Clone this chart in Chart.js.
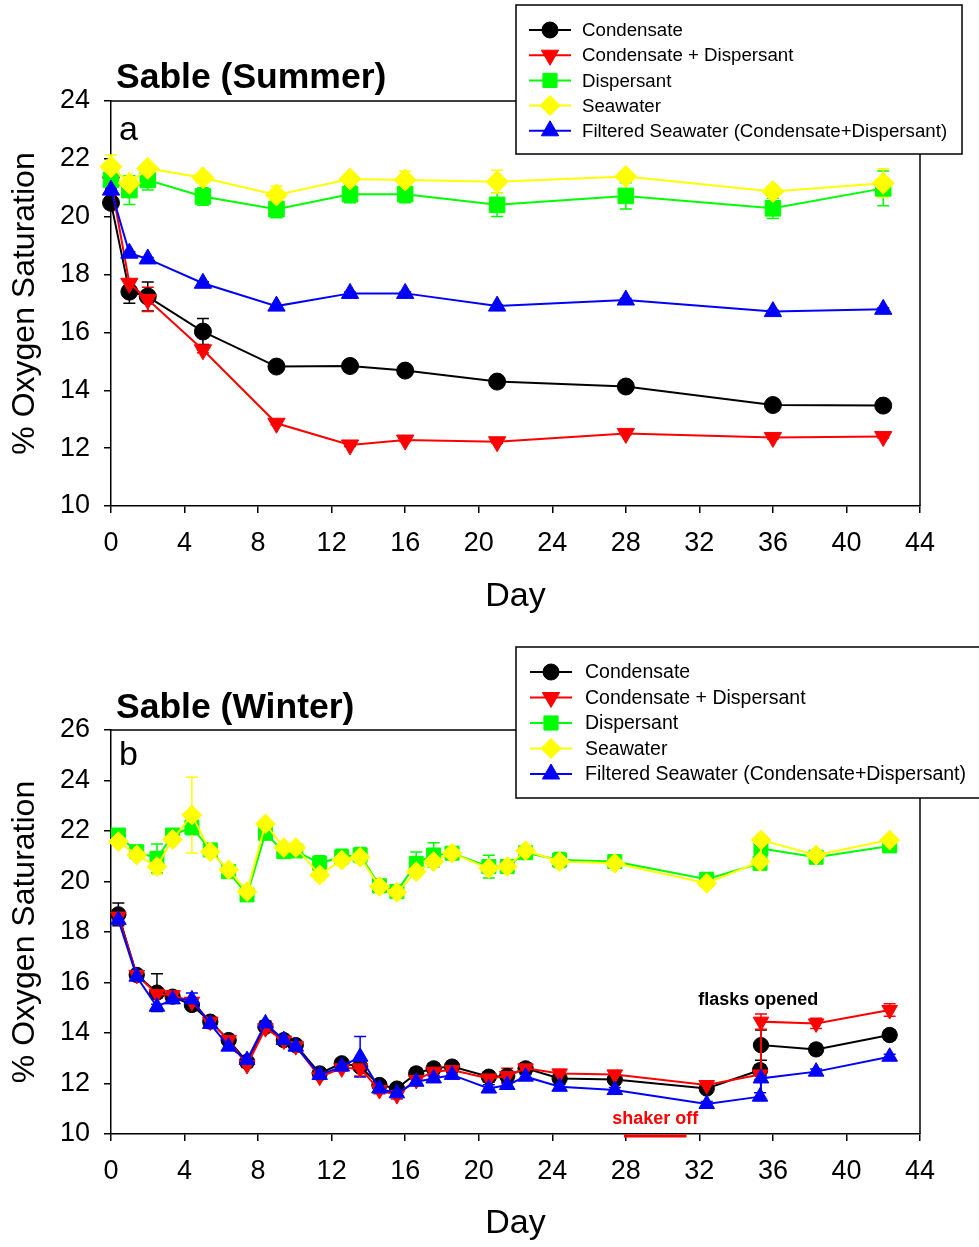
<!DOCTYPE html>
<html>
<head>
<meta charset="utf-8">
<script src="https://cdn.jsdelivr.net/npm/chart.js@4.4.1/dist/chart.umd.min.js"></script>
<style>
  html, body { margin: 0; padding: 0; background: #fff; }
  #wrap { position: relative; width: 979px; height: 1247px; overflow: hidden; }
  .panel { position: absolute; left: 0; width: 979px; }
  #pa { top: 0; height: 620px; }
  #pb { top: 620px; height: 627px; }
</style>
</head>
<body>
<div id="wrap">
  <div class="panel" id="pa"><canvas id="chartA" width="979" height="620"></canvas></div>
  <div class="panel" id="pb"><canvas id="chartB" width="979" height="627"></canvas></div>
</div>
<script>
/* globals Chart */
const FONT = '"Liberation Sans", Arial, Helvetica, sans-serif';

// ---- panel a: Sable (Summer) ----
const daysA = [0, 1, 2, 5, 9, 13, 16, 21, 28, 36, 42];
const condA     = [20.48, 17.41, 17.24, 16.03, 14.82, 14.84, 14.68, 14.30, 14.13, 13.49, 13.47];
const condDispA = [21.20, 17.70, 17.14, 15.40, 12.86, 12.11, 12.28, 12.22, 12.51, 12.37, 12.40];
const dispA     = [21.27, 20.92, 21.27, 20.70, 20.26, 20.78, 20.78, 20.41, 20.72, 20.29, 20.98];
const seaA      = [21.73, 21.16, 21.67, 21.35, 20.75, 21.30, 21.27, 21.21, 21.39, 20.87, 21.16];
const filtA     = [20.92, 18.74, 18.54, 17.70, 16.91, 17.35, 17.35, 16.91, 17.12, 16.72, 16.80];

const condErrA     = [0.10, 0.40, 0.50, 0.45, 0.15, 0.15, 0.15, 0.12, 0.10, 0.15, 0.10];
const condDispErrA = [0.05, 0.10, 0.42, 0.10, 0.05, 0.05, 0.05, 0.05, 0.05, 0.05, 0.05];
const dispErrA     = [0.30, 0.50, 0.35, 0.30, 0.30, 0.30, 0.30, 0.40, 0.45, 0.35, 0.60];
const seaErrA      = [0.40, 0.20, 0.10, 0.10, 0.30, 0.10, 0.30, 0.40, 0.10, 0.20, 0.50];
const filtErrA     = [0.05, 0.05, 0.05, 0.05, 0.05, 0.05, 0.05, 0.05, 0.05, 0.05, 0.05];

// ---- panel b: Sable (Winter) ----
const daysB = [0.4, 1.4, 2.5, 3.35, 4.4, 5.4, 6.4, 7.4, 8.4, 9.4, 10.05, 11.35, 12.55, 13.55,
  14.6, 15.55, 16.6, 17.55, 18.55, 20.55, 21.55, 22.55, 24.4, 27.4, 32.4, 35.3, 35.35, 38.35, 42.35];
const condB     = [18.70, 16.30, 15.60, 15.44, 15.11, 14.45, 13.72, 12.86, 14.25, 13.72, 13.52, 12.40, 12.80, 12.67,
  11.94, 11.80, 12.40, 12.60, 12.67, 12.27, 12.30, 12.60, 12.20, 12.16, 11.80, 12.53, 13.52, 13.35, 13.92];
const condDispB = [18.61, 16.30, 15.54, 15.50, 15.24, 14.45, 13.72, 12.73, 14.19, 13.70, 13.48, 12.27, 12.60, 12.60,
  11.74, 11.54, 12.14, 12.47, 12.53, 12.20, 12.30, 12.60, 12.40, 12.36, 11.94, 12.36, 14.45, 14.38, 14.91];
const dispB     = [21.84, 21.18, 20.92, 21.84, 22.15, 21.25, 20.39, 19.47, 21.91, 21.18, 21.21, 20.72, 20.98, 21.05,
  19.83, 19.60, 20.72, 21.05, 21.12, 20.59, 20.59, 21.14, 20.85, 20.79, 20.09, 20.72, 21.31, 20.96, 21.41];
const seaB      = [21.58, 21.05, 20.59, 21.67, 22.63, 21.18, 20.46, 19.60, 22.28, 21.34, 21.34, 20.26, 20.85, 20.96,
  19.80, 19.57, 20.39, 20.79, 21.12, 20.52, 20.59, 21.22, 20.79, 20.72, 19.93, 20.79, 21.64, 21.05, 21.64];
const filtB     = [18.48, 16.23, 15.04, 15.33, 15.33, 14.36, 13.46, 12.93, 14.38, 13.72, 13.46, 12.34, 12.67, 13.06,
  11.80, 11.61, 12.07, 12.20, 12.34, 11.80, 11.94, 12.27, 11.87, 11.74, 11.19, 11.48, 12.20, 12.47, 13.06];

const condErrB     = [0.45, 0.10, 0.75, 0.15, 0.15, 0.10, 0.10, 0.10, 0.10, 0.10, 0.10, 0.15, 0.15, 0.15,
  0.15, 0.15, 0.20, 0.20, 0.20, 0.20, 0.20, 0.20, 0.15, 0.15, 0.15, 0.20, 0.60, 0.20, 0.20];
const condDispErrB = [0.10, 0.10, 0.15, 0.15, 0.15, 0.10, 0.10, 0.10, 0.10, 0.10, 0.10, 0.10, 0.10, 0.30,
  0.15, 0.15, 0.20, 0.15, 0.15, 0.15, 0.30, 0.20, 0.15, 0.15, 0.15, 0.20, 0.30, 0.20, 0.25];
const dispErrB     = [0.20, 0.15, 0.57, 0.15, 0.30, 0.15, 0.15, 0.15, 0.15, 0.15, 0.15, 0.30, 0.30, 0.30,
  0.20, 0.20, 0.45, 0.48, 0.20, 0.45, 0.20, 0.20, 0.30, 0.20, 0.25, 0.20, 0.20, 0.15, 0.15];
const seaErrB      = [0.15, 0.15, 0.30, 0.20, 1.50, 0.15, 0.15, 0.15, 0.15, 0.15, 0.15, 0.20, 0.20, 0.20,
  0.15, 0.15, 0.15, 0.15, 0.15, 0.20, 0.15, 0.15, 0.15, 0.15, 0.15, 0.15, 0.15, 0.15, 0.15];
const filtErrB     = [0.10, 0.10, 0.10, 0.10, 0.25, 0.10, 0.10, 0.10, 0.10, 0.10, 0.10, 0.10, 0.10, 0.80,
  0.10, 0.10, 0.10, 0.10, 0.10, 0.15, 0.10, 0.10, 0.10, 0.10, 0.10, 0.15, 0.10, 0.10, 0.10];

const seriesNames = ['Condensate', 'Condensate + Dispersant', 'Dispersant', 'Seawater',
  'Filtered Seawater (Condensate+Dispersant)'];

function series(label, days, vals, errs, color, style, radius, rotation, order) {
  return {
    label,
    data: days.map((d, i) => ({ x: d, y: vals[i] })),
    errors: errs,
    borderColor: color,
    backgroundColor: color,
    borderWidth: 2,
    pointStyle: style,
    pointRadius: radius,
    pointHoverRadius: radius,
    pointRotation: rotation || 0,
    pointBackgroundColor: color,
    pointBorderColor: color,
    pointBorderWidth: 1,
    tension: 0,
    clip: false,
    order
  };
}

function buildSets(days, vals, errs, k) {
  return [
    series(seriesNames[0], days, vals[0], errs[0], '#000000', 'circle', 8.5 * k, 0, 5),
    series(seriesNames[1], days, vals[1], errs[1], '#ff0000', 'triangle', 10 * k, 180, 4),
    series(seriesNames[2], days, vals[2], errs[2], '#00ff00', 'rect', 11 * k, 0, 3),
    series(seriesNames[3], days, vals[3], errs[3], '#ffff00', 'rectRot', 11 * k, 0, 2),
    series(seriesNames[4], days, vals[4], errs[4], '#0000ff', 'triangle', 10 * k, 0, 1)
  ];
}

// vertical error bars with caps, behind the markers
const errorBars = {
  id: 'errorBars',
  beforeDatasetsDraw(chart) {
    const ctx = chart.ctx, xs = chart.scales.x, ys = chart.scales.y;
    const sets = chart.data.datasets.slice().sort((p, q) => q.order - p.order);
    for (const ds of sets) {
      if (!ds.errors) continue;
      ctx.save();
      ctx.strokeStyle = ds.borderColor;
      ctx.lineWidth = 1.5;
      ds.data.forEach((p, i) => {
        const e = ds.errors[i];
        if (!e) return;
        const x = xs.getPixelForValue(p.x);
        const y1 = ys.getPixelForValue(p.y + e), y2 = ys.getPixelForValue(p.y - e);
        ctx.beginPath();
        ctx.moveTo(x, y1); ctx.lineTo(x, y2);
        ctx.moveTo(x - 6, y1); ctx.lineTo(x + 6, y1);
        ctx.moveTo(x - 6, y2); ctx.lineTo(x + 6, y2);
        ctx.stroke();
      });
      ctx.restore();
    }
  }
};

function marker(ctx, ds, x, y, r) {
  const opts = { pointStyle: ds.pointStyle, radius: r, rotation: ds.pointRotation, borderWidth: 1 };
  ctx.fillStyle = ds.borderColor;
  ctx.strokeStyle = ds.borderColor;
  ctx.lineWidth = 1;
  if (Chart.helpers && Chart.helpers.drawPoint) {
    Chart.helpers.drawPoint(ctx, opts, x, y);
  } else {
    ctx.beginPath(); ctx.arc(x, y, r, 0, Math.PI * 2); ctx.fill();
  }
}

// frame, titles, panel letter, notes and the boxed legend
const decor = {
  id: 'decor',
  afterDraw(chart, args, o) {
    const { ctx, chartArea: a } = chart;
    const xs = chart.scales.x, ys = chart.scales.y;
    ctx.save();
    ctx.strokeStyle = '#000';
    ctx.lineWidth = 1.5;
    ctx.beginPath();
    ctx.moveTo(a.left, a.top); ctx.lineTo(a.right, a.top); ctx.lineTo(a.right, a.bottom);
    ctx.stroke();

    ctx.fillStyle = '#000';
    ctx.textAlign = 'left';
    ctx.textBaseline = 'alphabetic';
    ctx.font = `bold 35.5px ${FONT}`;
    ctx.fillText(o.title, 116, o.titleY);
    ctx.font = `34px ${FONT}`;
    ctx.fillText(o.letter, 119, o.letterY);

    for (const n of (o.notes || [])) {
      ctx.font = `bold 18px ${FONT}`;
      ctx.fillStyle = n.color;
      ctx.textAlign = 'center';
      ctx.fillText(n.text, xs.getPixelForValue(n.x), ys.getPixelForValue(n.y));
      if (n.bar) {
        ctx.strokeStyle = n.color;
        ctx.lineWidth = 3;
        ctx.beginPath();
        ctx.moveTo(xs.getPixelForValue(n.bar[0]), a.bottom + 2);
        ctx.lineTo(xs.getPixelForValue(n.bar[1]), a.bottom + 2);
        ctx.stroke();
      }
    }

    const lg = o.legend;
    ctx.fillStyle = '#fff';
    ctx.fillRect(lg.x, lg.y, lg.w, lg.h);
    ctx.strokeStyle = '#000';
    ctx.lineWidth = 1.5;
    ctx.strokeRect(lg.x, lg.y, lg.w, lg.h);
    ctx.font = `${lg.size}px ${FONT}`;
    ctx.textAlign = 'left';
    ctx.textBaseline = 'middle';
    chart.data.datasets.forEach((ds, i) => {
      const y = lg.y + lg.first + i * lg.gap;
      ctx.strokeStyle = ds.borderColor;
      ctx.lineWidth = 2;
      ctx.beginPath();
      ctx.moveTo(lg.x + lg.line[0], y); ctx.lineTo(lg.x + lg.line[1], y);
      ctx.stroke();
      marker(ctx, ds, lg.x + lg.mark, y, lg.r[i]);
      ctx.fillStyle = '#000';
      ctx.fillText(ds.label, lg.x + lg.text, y + 1);
    });
    ctx.restore();
  }
};

function makeScales(yMax, xAxisH) {
  return {
    x: {
      type: 'linear', min: 0, max: 44,
      afterFit: (s) => { s.height = xAxisH; },
      ticks: { stepSize: 4, color: '#000', font: { family: FONT, size: 27 }, padding: 14, maxRotation: 0, autoSkip: false },
      grid: { drawOnChartArea: false, drawTicks: true, tickLength: 7, color: '#000', lineWidth: 1.5 },
      border: { display: true, color: '#000', width: 1.5 },
      title: { display: true, text: 'Day', color: '#000', font: { family: FONT, size: 34 }, padding: { top: 0, bottom: 3 } }
    },
    y: {
      type: 'linear', min: 10, max: yMax,
      afterFit: (s) => { s.width = 111; },
      ticks: { stepSize: 2, color: '#000', font: { family: FONT, size: 27 }, padding: 14 },
      grid: { drawOnChartArea: false, drawTicks: true, tickLength: 7, color: '#000', lineWidth: 1.5 },
      border: { display: true, color: '#000', width: 1.5 },
      title: { display: true, text: '% Oxygen Saturation', color: '#000', font: { family: FONT, size: 32 }, padding: { top: 6, bottom: 0 } }
    }
  };
}

function makeChart(id, sets, yMax, padTop, xAxisH, decorOpts) {
  return new Chart(document.getElementById(id).getContext('2d'), {
    type: 'line',
    data: { datasets: sets },
    options: {
      responsive: false,
      animation: false,
      events: [],
      layout: { padding: { top: padTop, right: 59, left: 0, bottom: 0 } },
      scales: makeScales(yMax, xAxisH),
      plugins: { legend: { display: false }, tooltip: { enabled: false }, decor: decorOpts }
    },
    plugins: [errorBars, decor]
  });
}

makeChart('chartA',
  buildSets(daysA, [condA, condDispA, dispA, seaA, filtA], [condErrA, condDispErrA, dispErrA, seaErrA, filtErrA], 1),
  24, 101, 114,
  {
    title: 'Sable (Summer)', titleY: 88, letter: 'a', letterY: 140,
    legend: { x: 516, y: 5, w: 446, h: 149, first: 25, gap: 25.2, line: [13, 55], mark: 34, text: 66, size: 18.7,
      r: [8, 10, 10, 10, 10] }
  });

makeChart('chartB',
  buildSets(daysB, [condB, condDispB, dispB, seaB, filtB], [condErrB, condDispErrB, dispErrB, seaErrB, filtErrB], 0.9),
  26, 110, 113,
  {
    title: 'Sable (Winter)', titleY: 98, letter: 'b', letterY: 145,
    legend: { x: 516, y: 27, w: 480, h: 151, first: 25, gap: 25.5, line: [14, 56], mark: 35, text: 69, size: 19.5,
      r: [8, 10, 10, 10, 10] },
    notes: [
      { text: 'flasks opened', color: '#000', x: 35.2, y: 15.1 },
      { text: 'shaker off', color: '#ff0000', x: 29.6, y: 10.38, bar: [27.9, 31.3] }
    ]
  });
</script>
</body>
</html>
